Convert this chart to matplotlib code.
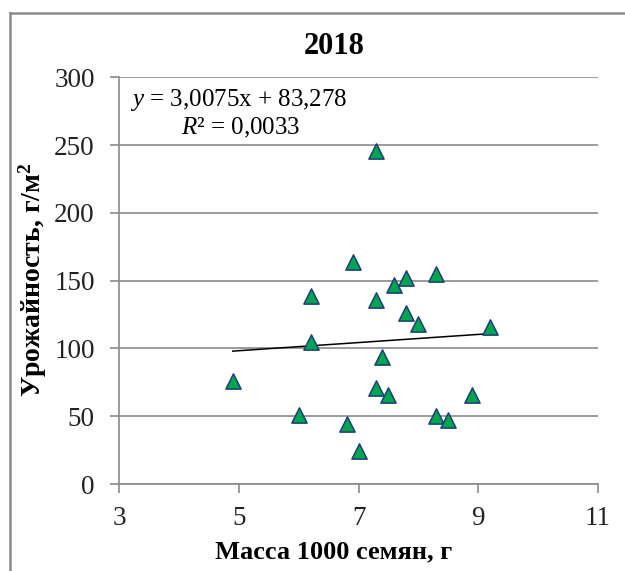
import numpy as np
import matplotlib
matplotlib.use("Agg")
import matplotlib.pyplot as plt
from matplotlib.lines import Line2D

# масса 1000 семян (г) и урожайность (г/м2), 2018
seed_mass = [6.9, 6.2, 6.2, 4.9, 6.0, 6.8, 7.0, 8.3, 7.8, 7.6, 7.3,
             7.8, 8.0, 9.2, 7.4, 7.3, 7.5, 8.9, 8.3, 8.5, 7.3]
yield_gm2 = [164, 139, 105, 76, 51, 44, 24, 155, 152, 147, 136,
             126, 118, 116, 94, 71, 66, 66, 50, 47, 246]

# линейный тренд
slope = 3.0075
intercept = 83.278
r2 = 0.0033

x_ticks = [3, 5, 7, 9, 11]
y_ticks = [0, 50, 100, 150, 200, 250, 300]

plt.rcParams['font.family'] = ['Liberation Serif', 'DejaVu Serif']
plt.rcParams['mathtext.fontset'] = 'custom'
plt.rcParams['mathtext.rm'] = 'Liberation Serif'
plt.rcParams['mathtext.it'] = 'Liberation Serif:italic'
plt.rcParams['mathtext.bf'] = 'Liberation Serif:bold'

grey = '#8a8a8a'

fig = plt.figure(figsize=(6.25, 5.71), dpi=100)
W, H = 625, 571

ax = fig.add_axes([119 / W, 1 - 484 / H, (598 - 119) / W, (484 - 77.3) / H])
ax.set_xlim(3, 11)
ax.set_ylim(0, 300)
ax.set_xticks(x_ticks)
ax.set_yticks(y_ticks)

for side in ['top', 'right']:
    ax.spines[side].set_visible(False)
for side in ['left', 'bottom']:
    ax.spines[side].set_color(grey)
    ax.spines[side].set_linewidth(1.2)

ax.yaxis.grid(True, color=grey, linewidth=1.2)
ax.set_axisbelow(True)
ax.tick_params(axis='both', direction='out', length=6.5, width=1.2,
               color=grey, labelsize=19.5, labelcolor='#222222')
ax.tick_params(axis='y', pad=11)
ax.tick_params(axis='x', pad=9)

ax.scatter(seed_mass, yield_gm2, marker='^', s=120, c='#00a550',
           edgecolors='#1f3c78', linewidths=1.1, zorder=3)

xs = np.array([min(seed_mass), max(seed_mass)])
ax.plot(xs, slope * xs + intercept, color='black', linewidth=1.1, zorder=2)

eq1 = '$y$ = ' + f'{slope:.4f}'.replace('.', ',') + 'x + ' + f'{intercept:.3f}'.replace('.', ',')
eq2 = '$R$² = ' + f'{r2:.4f}'.replace('.', ',')
fig.text(239 / W, 1 - 100 / H, eq1, ha='center', va='center', fontsize=18)
fig.text(241 / W, 1 - 128 / H, eq2, ha='center', va='center', fontsize=18)

fig.text(334 / W, 1 - 46 / H, '2018', ha='center', va='center',
         fontsize=22, fontweight='bold')
fig.text(334 / W, 1 - 552 / H, 'Масса 1000 семян, г', ha='center', va='center',
         fontsize=19, fontweight='bold')
fig.text(33 / W, 1 - 280 / H, 'Урожайность, г/м$^{\\mathbf{2}}$', ha='center',
         va='center', rotation=90, fontsize=20, fontweight='bold')

# рамка области диаграммы: видны только левый и верхний края
x0, y0 = 9.5 / W, 1 - 12.7 / H
fig.add_artist(Line2D([x0, x0], [0, y0], transform=fig.transFigure,
                      color=grey, linewidth=1.8))
fig.add_artist(Line2D([x0, 1], [y0, y0], transform=fig.transFigure,
                      color=grey, linewidth=1.8))

fig.savefig('out.png', dpi=100)
